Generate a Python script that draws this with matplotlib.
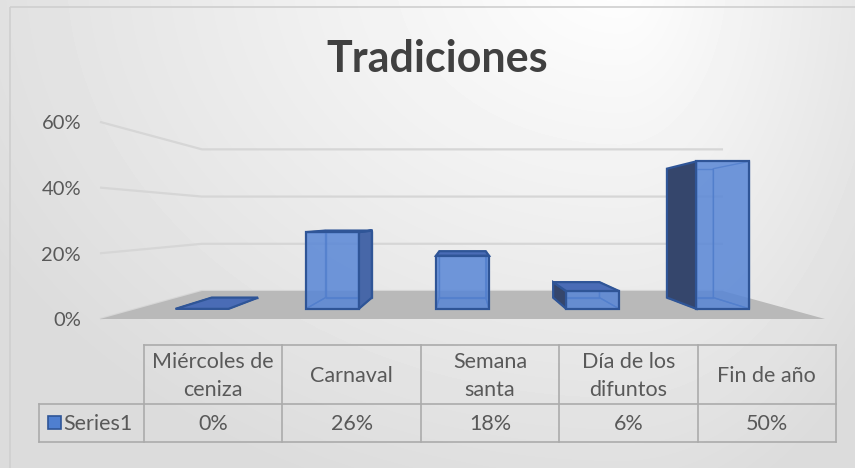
import numpy as np
import matplotlib
matplotlib.use("Agg")
import matplotlib.pyplot as plt
from matplotlib.patches import Polygon, Rectangle

# ---------------- data ----------------
categories = ["Miércoles de\nceniza", "Carnaval", "Semana\nsanta", "Día de los\ndifuntos", "Fin de año"]
values = [0, 26, 18, 6, 50]
series_name = "Series1"
y_ticks = [0, 20, 40, 60]
title = "Tradiciones"

# ---------------- figure ----------------
W, H = 855, 468
plt.rcParams["font.family"] = ["Lato", "DejaVu Sans"]
fig = plt.figure(figsize=(W / 100, H / 100), dpi=100)
ax = fig.add_axes([0, 0, 1, 1])
ax.set_xlim(0, W)
ax.set_ylim(H, 0)
ax.axis("off")

# background gradient
yy, xx = np.mgrid[0:H, 0:W]
dx = xx - 620.0
rx = np.where(dx < 0, 700.0, 330.0)
d = np.sqrt((dx / rx) ** 2 + ((yy + 30.0) / 540.0) ** 2)
bg = 255 - 34 * np.clip(d, 0, 1.05)
ax.imshow(bg, cmap="gray", vmin=0, vmax=255, extent=(0, W, H, 0), zorder=0, interpolation="bilinear")
ax.add_patch(Rectangle((10, 7), 900, 520, fill=False, ec="#cfcfcf", lw=1.2, zorder=1))

# ---------------- perspective projection ----------------
VX, VY = 462.5, 219.5      # vanishing point
FLOOR_Y = 319.0            # front floor edge
PX_PER = 3.285             # px per percent at front plane
HALF_W = 362.5             # half width of floor at front
D = 2.554                  # perspective depth constant


def proj(xw, v, z):
    s = D / (D + z)
    return (VX + s * xw, VY + s * (FLOOR_Y - VY - v * PX_PER))


GRID_C = "#d6d6d6"
TEXT_C = "#595959"

# gridlines (left wall + back wall)
for v in y_ticks:
    pts = np.array([proj(-HALF_W, v, 0), proj(-HALF_W, v, 1), proj(HALF_W, v, 1)])
    ax.plot(pts[:, 0], pts[:, 1], color=GRID_C, lw=1.6, zorder=2, solid_capstyle="butt")
    fx, fy = proj(-HALF_W, v, 0)
    ax.text(fx - 19, fy + 2, f"{v}%", ha="right", va="center", fontsize=14.5, color=TEXT_C, zorder=5)

# floor
floor = [proj(-HALF_W, 0, 0), proj(HALF_W, 0, 0), proj(HALF_W, 0, 1), proj(-HALF_W, 0, 1)]
ax.add_patch(Polygon(floor, closed=True, fc="#b9b9b9", ec="none", zorder=3))

# bars
n = len(values)
slot = 2 * HALF_W / n
half_bar = 0.2035 * slot
Z0, Z1 = 0.29, 0.70
EDGE = "#2f5597"
FRONT_C = "#5886d6"
LEFT_C = "#35466c"
RIGHT_C = "#4767a8"
TOP_C = "#4a6cb6"

for i, v in enumerate(values):
    xc = -HALF_W + slot * (i + 0.5)
    xl, xr = xc - half_bar, xc + half_bar
    faces = {
        "front": [proj(xl, 0, Z0), proj(xr, 0, Z0), proj(xr, v, Z0), proj(xl, v, Z0)],
        "back": [proj(xl, 0, Z1), proj(xr, 0, Z1), proj(xr, v, Z1), proj(xl, v, Z1)],
        "left": [proj(xl, 0, Z0), proj(xl, 0, Z1), proj(xl, v, Z1), proj(xl, v, Z0)],
        "right": [proj(xr, 0, Z0), proj(xr, 0, Z1), proj(xr, v, Z1), proj(xr, v, Z0)],
        "top": [proj(xl, v, Z0), proj(xr, v, Z0), proj(xr, v, Z1), proj(xl, v, Z1)],
        "bottom": [proj(xl, 0, Z0), proj(xr, 0, Z0), proj(xr, 0, Z1), proj(xl, 0, Z1)],
    }
    vis = {
        "front": v > 0,
        "left": xl > 0 and v > 0,
        "right": xr < 0 and v > 0,
        "top": v * PX_PER < FLOOR_Y - VY,
    }
    # hidden edges (seen through transparent faces)
    for name in ["back", "bottom", "left", "right"]:
        if not vis.get(name, False):
            ax.add_patch(Polygon(faces[name], closed=True, fill=False, ec=EDGE, lw=1.0, alpha=0.8, zorder=4))
    if vis["left"]:
        ax.add_patch(Polygon(faces["left"], closed=True, fc=LEFT_C, ec=EDGE, lw=1.6, zorder=5))
    if vis["right"]:
        ax.add_patch(Polygon(faces["right"], closed=True, fc=RIGHT_C, ec=EDGE, lw=1.6, zorder=5))
    if vis["top"]:
        ax.add_patch(Polygon(faces["top"], closed=True, fc=TOP_C, ec=EDGE, lw=1.6, zorder=6))
    if vis["front"]:
        ax.add_patch(Polygon(faces["front"], closed=True, fc=FRONT_C, ec="none", alpha=0.85, zorder=7))
        ax.add_patch(Polygon(faces["front"], closed=True, fill=False, ec=EDGE, lw=1.6, zorder=8))

# title
ax.text(437, 59, title, ha="center", va="center", fontsize=31, fontweight="bold", color="#404040", zorder=5)

# ---------------- data table ----------------
HDR_X = 39.0
TX0, TX1 = 144.0, 836.0
TY0, TY1, TY2 = 345.0, 404.0, 442.0
LINE_C = "#ababab"
TFS = 15.5
edges = np.linspace(TX0, TX1, n + 1)
ax.plot([TX0, TX1], [TY0, TY0], color=LINE_C, lw=1.2, zorder=5)
ax.plot([HDR_X, TX1], [TY1, TY1], color=LINE_C, lw=1.2, zorder=5)
ax.plot([HDR_X, TX1], [TY2, TY2], color=LINE_C, lw=1.2, zorder=5)
ax.plot([HDR_X, HDR_X], [TY1, TY2], color=LINE_C, lw=1.2, zorder=5)
for e in edges:
    ax.plot([e, e], [TY0, TY2], color=LINE_C, lw=1.2, zorder=5)
for i, (c, v) in enumerate(zip(categories, values)):
    cx = (edges[i] + edges[i + 1]) / 2
    ax.text(cx, (TY0 + TY1) / 2 + 1, c, ha="center", va="center", fontsize=TFS,
            color=TEXT_C, linespacing=1.5, zorder=6)
    ax.text(cx, (TY1 + TY2) / 2 + 1, f"{v}%", ha="center", va="center", fontsize=TFS,
            color=TEXT_C, zorder=6)
# legend key
ax.add_patch(Rectangle((47.5, 415.5), 13.5, 13.5, fc="#4f7fd0", ec=EDGE, lw=1.2, zorder=6))
ax.text(63, (TY1 + TY2) / 2 + 1, series_name, ha="left", va="center", fontsize=TFS, color=TEXT_C, zorder=6)

fig.savefig("out.png", dpi=100)
